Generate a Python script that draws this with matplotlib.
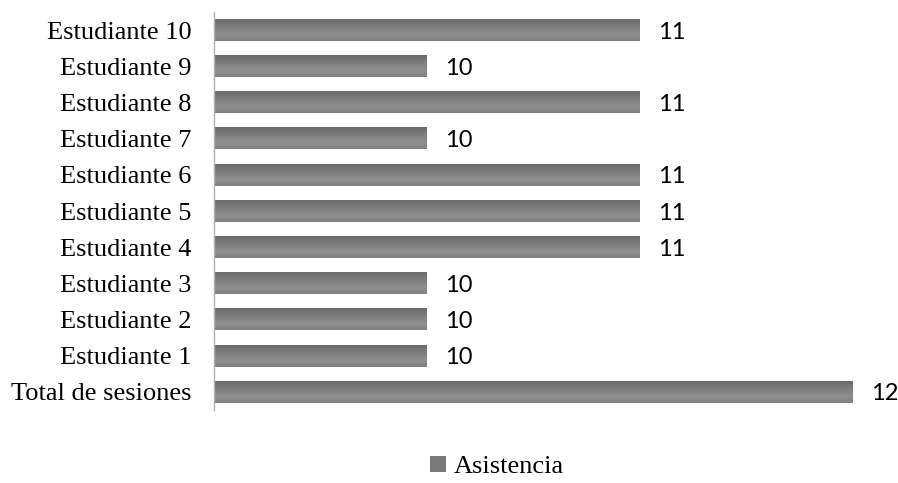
import matplotlib
matplotlib.use('Agg')
import matplotlib.pyplot as plt
import numpy as np
from matplotlib.patches import Patch

categories = ['Total de sesiones', 'Estudiante 1', 'Estudiante 2', 'Estudiante 3',
              'Estudiante 4', 'Estudiante 5', 'Estudiante 6', 'Estudiante 7',
              'Estudiante 8', 'Estudiante 9', 'Estudiante 10']
asistencia = [12, 10, 10, 10, 11, 11, 11, 10, 11, 10, 11]
series_name = 'Asistencia'

W, H = 898, 483
fig = plt.figure(figsize=(W / 100, H / 100), dpi=100, facecolor='white')
ax = fig.add_axes([214 / W, (H - 410) / H, (853 - 214) / W, (410 - 12) / H])

xmin = 9
ypos = np.arange(len(categories))
bh = 0.6
bars = ax.barh(ypos, [v - xmin for v in asistencia], left=xmin, height=bh,
               color='#7a7a7a', edgecolor='none')

# vertical gradient on each bar (light near top, darker at bottom)
grad = np.concatenate([np.linspace(0.50, 0.56, 30), np.linspace(0.56, 0.42, 70)])[:, None]
for b in bars:
    x0, y0 = b.get_x(), b.get_y()
    ax.imshow(grad, cmap='gray', vmin=0, vmax=1, aspect='auto',
              extent=(x0, x0 + b.get_width(), y0 + b.get_height(), y0),
              origin='upper', zorder=2, interpolation='bilinear')
    b.set_visible(False)

for y, v in zip(ypos, asistencia):
    ax.text(v + 0.085, y, f'{v}', va='center_baseline', ha='left', fontsize=17,
            family='Lato', color='black', clip_on=False)

ax.set_xlim(xmin, 12)
ax.set_ylim(-0.5, len(categories) - 0.5)
ax.set_yticks(ypos)
ax.set_yticklabels(categories, family='Liberation Serif', fontsize=19)
ax.set_xticks([])
ax.tick_params(axis='y', length=0, pad=16)
for s in ['top', 'right', 'bottom']:
    ax.spines[s].set_visible(False)
ax.spines['left'].set_color('#b0b0b0')
ax.spines['left'].set_linewidth(1)

handle = Patch(facecolor='#7a7a7a', edgecolor='none')
fig.legend([handle], [series_name], loc='center', bbox_to_anchor=(497 / W, (H - 467) / H),
           frameon=False, prop={'family': 'Liberation Serif', 'size': 19},
           handlelength=0.6, handleheight=0.6, handletextpad=0.3)

fig.savefig('out.png', dpi=100, facecolor='white')
